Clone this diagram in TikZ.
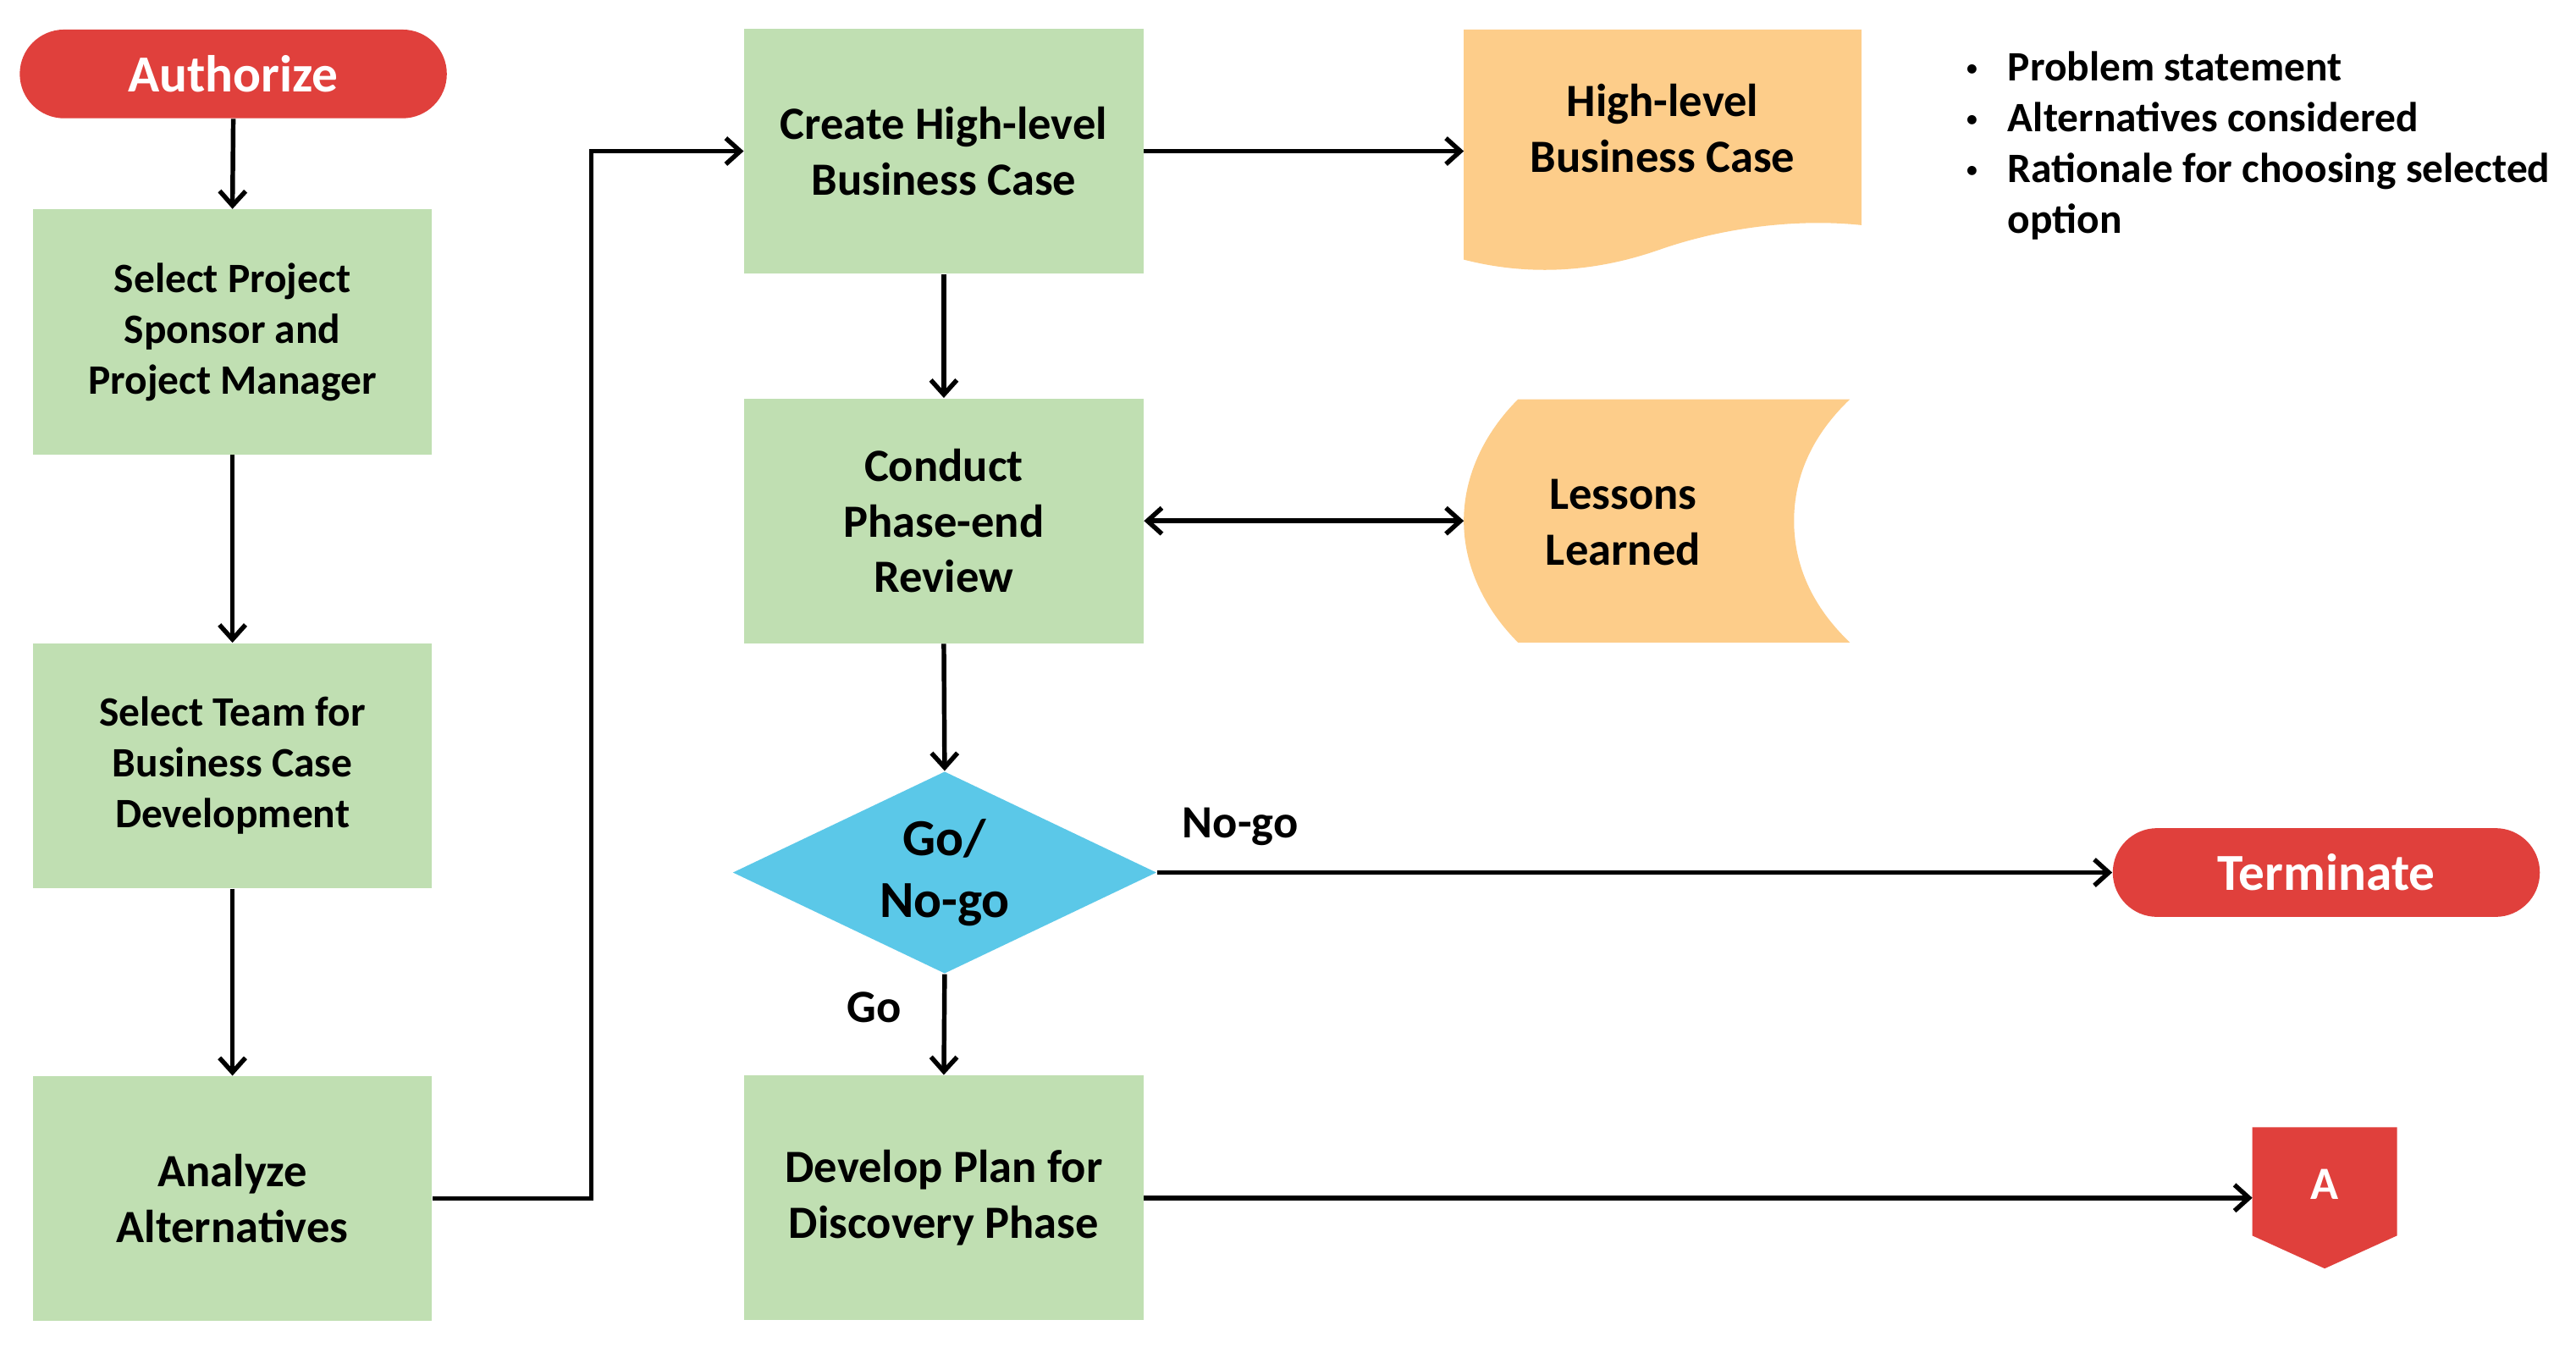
\documentclass[tikz,border=0pt]{standalone}
\usepackage{fontspec}
\setmainfont{Carlito}
\usetikzlibrary{arrows.meta,shapes.geometric}
\definecolor{cred}{HTML}{E0403C}
\definecolor{cgreen}{HTML}{C0DFB2}
\definecolor{corange}{HTML}{FDCD8A}
\definecolor{ccyan}{HTML}{5BC8E8}
\newcommand{\smallbul}{\raisebox{0.2ex}{\mdseries\fontsize{9}{9}\selectfont\textbullet}}
\tikzset{
 box/.style={rectangle, fill=cgreen, minimum width=4.86cm, minimum height=2.98cm, align=center, inner sep=0pt, font=\bfseries\fontsize{16}{19.3}\selectfont},
 boxsm/.style={box, font=\bfseries\fontsize{14.5}{17.6}\selectfont},
 term/.style={rectangle, rounded corners=0.54cm, fill=cred, minimum width=5.2cm, minimum height=1.08cm, inner sep=0pt, text=white, font=\bfseries\fontsize{18}{21}\selectfont},
 dec/.style={diamond, shape aspect=2.1, fill=ccyan, minimum width=5.16cm, minimum height=2.46cm, inner sep=0pt, align=center, font=\bfseries\fontsize{18}{21.5}\selectfont},
 arr/.style={-{Straight Barb[length=5pt,width=9pt]}, line width=1.6pt},
 darr/.style={{Straight Barb[length=5pt,width=9pt]}-{Straight Barb[length=5pt,width=9pt]}, line width=1.6pt},
 lbl/.style={font=\bfseries\fontsize{16}{19.3}\selectfont, inner sep=0pt},
 plain/.style={align=center, inner sep=0pt, font=\bfseries\fontsize{16}{19.3}\selectfont},
}
\begin{document}
\begin{tikzpicture}[x=0.02cm, y=-0.02cm]
\useasboundingbox[fill=white] (0,0) rectangle (1568,823.4);

% terminals
\node[term] (auth) at (142,45) {Authorize};
\node[term] (term) at (1416,531) {Terminate};

% left column
\node[boxsm] (sp) at (141.5,202) {Select Project\\Sponsor and\\Project Manager};
\node[boxsm] (st) at (141.5,466) {Select Team for\\Business Case\\Development};
\node[box] (ana) at (141.5,729.5) {Analyze\\Alternatives};

% middle column
\node[box] (cre) at (574.5,92) {Create High-level\\Business Case};
\node[box] (con) at (574.5,317) {Conduct\\Phase-end\\Review};
\node[dec] (dec) at (575,531) {Go/\\No-go};
\node[box] (dev) at (574.5,729) {Develop Plan for\\Discovery Phase};

% document shape
\fill[corange] (891,18) -- (1133,18) -- (1133,137)
  .. controls (1095,133) and (1050,138) .. (1010,152)
  .. controls (970,166) and (930,168) .. (891,158) -- cycle;
\node[plain] (doc) at (1012,78) {High-level\\Business Case};
\coordinate (docw) at (891,92);

% stored data shape
\fill[corange] (924,243) -- (1126,243)
  .. controls (1103,265) and (1092,290) .. (1092,317)
  .. controls (1092,344) and (1103,369) .. (1126,391)
  -- (924,391)
  .. controls (904,371) and (891,345) .. (891,317)
  .. controls (891,289) and (904,263) .. (924,243) -- cycle;
\node[plain] (les) at (988,318) {Lessons\\Learned};
\coordinate (lesw) at (891,317);

% off-page connector
\fill[cred] (1371,686) -- (1459,686) -- (1459,752) -- (1415,772) -- (1371,752) -- cycle;
\node[plain, text=white] (atxt) at (1415,721) {A};
\coordinate (aw) at (1371,729);

% bullets
\node[anchor=north west, inner sep=0pt, font=\bfseries\fontsize{14.5}{17.6}\selectfont] (bul) at (1196,27)
 {\begin{tabular}{@{}l@{\hspace{0.36cm}}l@{}}
 \smallbul & Problem statement\\
 \smallbul & Alternatives considered\\
 \smallbul & Rationale for choosing selected\\
  & option
 \end{tabular}};

% connectors
\coordinate (bendA) at (360,0);
\draw[arr] (auth.south) -- (sp.north);
\draw[arr] (sp.south) -- (st.north);
\draw[arr] (st.south) -- (ana.north);
\draw[arr] (ana.east) -- (ana.east -| bendA) |- (cre.west);
\draw[arr] (cre.east) -- (docw);
\draw[arr] (cre.south) -- (con.north);
\draw[darr] (con.east) -- (lesw);
\draw[arr] (con.south) -- (dec.north);
\draw[arr] (dec.east) -- (term.west);
\draw[arr] (dec.south) -- (dev.north);
\draw[arr] (dev.east) -- (aw);

% labels
\node[lbl] (nogo) at (755,503) {No-go};
\node[lbl] (go) at (532,613) {Go};
\end{tikzpicture}
\end{document}
